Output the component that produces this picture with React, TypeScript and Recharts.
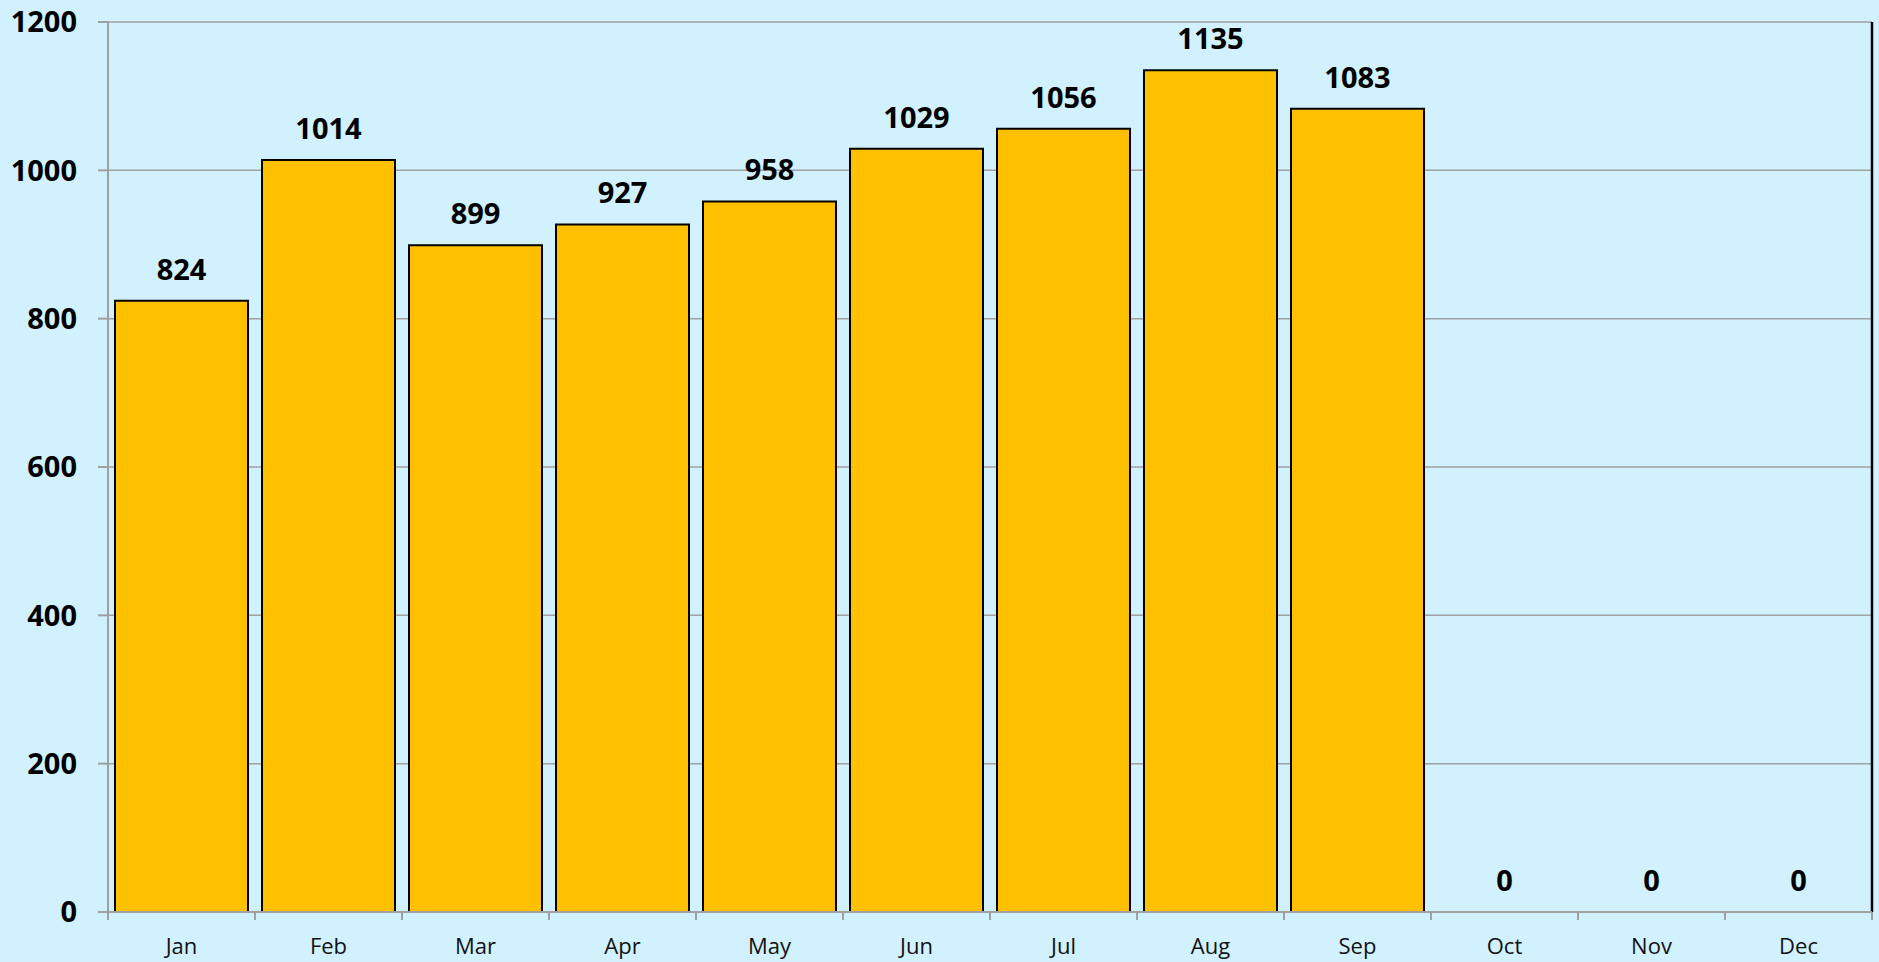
import { ComposedChart, Bar, Line, XAxis, YAxis, CartesianGrid, LabelList, ReferenceLine } from "recharts";

const months = ["Jan", "Feb", "Mar", "Apr", "May", "Jun", "Jul", "Aug", "Sep", "Oct", "Nov", "Dec"];
const counts = [824, 1014, 899, 927, 958, 1029, 1056, 1135, 1083, 0, 0, 0];
const yTicks = [0, 200, 400, 600, 800, 1000, 1200];

const W = 1879;
const H = 962;
const MARGIN = { top: 22, right: 7, bottom: 0, left: 8 };
const Y_AXIS_W = 100;
const PLOT_W = W - MARGIN.left - Y_AXIS_W - MARGIN.right;
const BAND = PLOT_W / months.length;

const FONT = "'Open Sans', 'Noto Sans', sans-serif";
const GRID = "#a0a0a0";
const VALUE_STYLE = { fontSize: 29, fontWeight: 700, fill: "#000", fontFamily: FONT };

// category ticks sit on the band edges, not the centres
function MonthTick(props: any) {
  const { x, y, payload, index } = props;
  const left = x - BAND / 2;
  const right = x + BAND / 2;
  return (
    <g>
      <line x1={left} x2={left} y1={y} y2={y + 8} stroke={GRID} strokeWidth={2} />
      {index === months.length - 1 && (
        <line x1={right} x2={right} y1={y} y2={y + 8} stroke={GRID} strokeWidth={2} />
      )}
      <text x={x} y={y + 42} textAnchor="middle" fontSize={22} fontFamily={FONT} fill="#111">
        {payload.value}
      </text>
    </g>
  );
}

export default function App() {
  const data = months.map((m, i) => ({ month: m, value: counts[i] }));

  return (
    <div style={{ position: "fixed", top: 0, left: 0, width: W, height: H, background: "#d1f1ff" }}>
      <ComposedChart width={W} height={H} data={data} margin={MARGIN} barCategoryGap={7}>
        <CartesianGrid yAxisId="left" vertical={false} stroke={GRID} strokeWidth={1.5} />
        <XAxis
          dataKey="month"
          height={50}
          tickSize={0}
          tickMargin={0}
          tickLine={false}
          axisLine={{ stroke: GRID, strokeWidth: 2 }}
          tick={<MonthTick />}
          interval={0}
        />
        <XAxis xAxisId="top" orientation="top" dataKey="month" height={0} tick={false} tickLine={false}
          axisLine={{ stroke: "#000", strokeWidth: 2 }} />
        <YAxis
          yAxisId="left"
          width={Y_AXIS_W}
          domain={[0, 1200]}
          ticks={yTicks}
          interval={0}
          tickSize={10}
          tickMargin={21}
          tickLine={{ stroke: GRID, strokeWidth: 2 }}
          axisLine={{ stroke: GRID, strokeWidth: 2 }}
          tick={VALUE_STYLE}
        />
        {/* right edge of the plot frame */}
        <ReferenceLine yAxisId="left" x="Dec" position="end" stroke="#000" strokeWidth={2.5} />
        <Bar
          yAxisId="left"
          dataKey="value"
          fill="#ffc000"
          stroke="#000"
          strokeWidth={2}
          isAnimationActive={false}
        />
        {/* invisible series that carries the value labels, so the zero months get one too */}
        <Line
          yAxisId="left"
          dataKey="value"
          stroke="none"
          dot={false}
          activeDot={false}
          legendType="none"
          isAnimationActive={false}
        >
          <LabelList dataKey="value" position="top" offset={21} style={VALUE_STYLE} />
        </Line>
      </ComposedChart>
    </div>
  );
}
